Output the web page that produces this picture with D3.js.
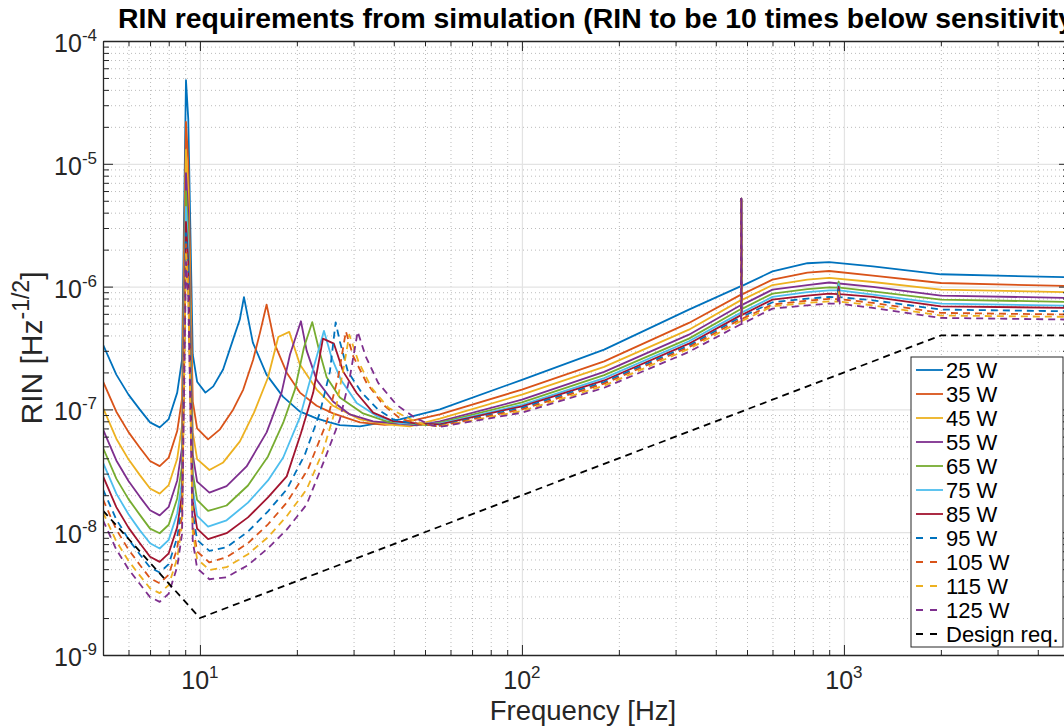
<!DOCTYPE html>
<html>
<head>
<meta charset="utf-8">
<script src="https://cdn.jsdelivr.net/npm/d3@7"></script>
<style>
  body { margin: 0; background: #fff; }
  svg { display: block; font-family: "Liberation Sans", Arial, Helvetica, sans-serif; }
</style>
</head>
<body>
<div id="chart"></div>
<script>
// RIN requirement curves, [frequency Hz, RIN 1/sqrt(Hz)]
var rin25 = [[5,3.37e-7],[5.5,1.92e-7],[6,1.32e-7],[6.5,1.0e-7],[7,7.84e-8],[7.5,7.14e-8],[8,8.34e-8],[8.5,1.37e-7],[8.8,2.54e-7],[9.05,4.8e-5],[9.2,2.3e-5],[9.5,2.8e-7],[9.8,1.68e-7],[10.4,1.37e-7],
  [11,1.54e-7],[11.8,2.11e-7],[12.7,3.77e-7],[13.3,5.39e-7],[13.7,8.2e-7],[14.6,3.5e-7],[16.1,1.92e-7],[18.1,1.27e-7],[20.4,9.63e-8],[23,8.45e-8],[25.3,7.84e-8],[27.2,7.45e-8],[31.4,7.27e-8],[41.8,8.3e-8],[55.6,1.0e-7],
  [100,1.74e-7],[180,3.07e-7],[330,6.5e-7],[479,1.01e-6],[480,5.2e-6],[481,1.01e-6],[600,1.33e-6],[770,1.55e-6],[900,1.58e-6],[1230,1.46e-6],[2000,1.26e-6],[5000,1.19e-6]];
var rin35 = [[5,1.69e-7],[5.5,9.58e-8],[6,6.53e-8],[6.5,4.9e-8],[7,3.8e-8],[7.5,3.45e-8],[8,4.05e-8],[8.5,6.66e-8],[8.8,1.23e-7],[9.05,2.19e-5],[9.2,1.03e-5],[9.5,1.16e-7],[9.8,7.0e-8],[10.6,5.7e-8],
  [11.54,6.88e-8],[12.69,1.0e-7],[13.63,1.45e-7],[14.63,2.54e-7],[15.36,4.2e-7],[16.11,7.14e-7],[17.1,3.37e-7],[18.6,1.99e-7],[20.44,1.37e-7],[23.04,1.07e-7],[25.9,9.28e-8],[31.4,7.84e-8],[37.5,7.48e-8],[41.8,7.69e-8],[55.6,9.1e-8],
  [100,1.45e-7],[180,2.46e-7],[330,5.06e-7],[479,8.6e-7],[480,5.2e-6],[481,8.6e-7],[600,1.14e-6],[770,1.3e-6],[900,1.34e-6],[1230,1.23e-6],[2000,1.07e-6],[5000,1.01e-6]];
var rin45 = [[5,1.03e-7],[5.5,5.77e-8],[6,3.92e-8],[6.5,2.93e-8],[7,2.27e-8],[7.5,2.06e-8],[8,2.42e-8],[8.5,3.97e-8],[8.8,7.37e-8],[9.05,1.3e-5],[9.2,6.12e-6],[9.5,6.53e-8],[9.8,3.94e-8],[10.7,3.21e-8],
  [11.81,3.7e-8],[13.31,5.49e-8],[14.72,9.4e-8],[16.27,1.82e-7],[17.51,3.89e-7],[18.94,4.28e-7],[20.44,2.32e-7],[23.04,1.45e-7],[25.9,1.07e-7],[31.4,8.29e-8],[38,7.55e-8],[44.9,7.27e-8],[55.6,8.4e-8],
  [100,1.32e-7],[180,2.22e-7],[330,4.46e-7],[479,7.76e-7],[480,5.2e-6],[481,7.76e-7],[600,1.03e-6],[770,1.14e-6],[900,1.18e-6],[1230,1.09e-6],[2000,9.45e-7],[5000,8.99e-7]];
var rin55 = [[5,6.88e-8],[5.5,3.84e-8],[6,2.61e-8],[6.5,1.95e-8],[7,1.51e-8],[7.5,1.37e-8],[8,1.61e-8],[8.5,2.64e-8],[8.8,4.9e-8],[9.05,8.41e-6],[9.2,3.98e-6],[9.5,4.28e-8],[9.8,2.58e-8],[10.7,2.1e-8],
  [12.1,2.37e-8],[13.96,3.43e-8],[16.11,6.5e-8],[17.93,1.37e-7],[19.04,2.8e-7],[20.59,5.22e-7],[21.45,3.01e-7],[23.04,1.74e-7],[25.9,1.16e-7],[29.2,9.1e-8],[34.5,7.99e-8],[47.1,7.41e-8],[55.6,8.0e-8],
  [100,1.2e-7],[180,2.02e-7],[330,4.06e-7],[479,7.07e-7],[480,5.2e-6],[481,7.07e-7],[600,9.45e-7],[770,1.03e-6],[900,1.08e-6],[1230,9.95e-7],[2000,8.45e-7],[5000,8.09e-7]];
var rin65 = [[5,4.87e-8],[5.5,2.73e-8],[6,1.86e-8],[6.5,1.39e-8],[7,1.07e-8],[7.5,9.81e-9],[8,1.15e-8],[8.5,1.88e-8],[8.8,3.5e-8],[9.05,6.0e-6],[9.2,2.79e-6],[9.5,3.03e-8],[9.8,1.83e-8],[10.6,1.49e-8],
  [12.1,1.65e-8],[14.1,2.4e-8],[16.27,4.14e-8],[18.14,7.79e-8],[19.72,1.45e-7],[21.04,3.19e-7],[22.33,5.14e-7],[23.42,3.07e-7],[24.75,1.83e-7],[27.2,1.25e-7],[32.1,9.28e-8],[38.4,7.91e-8],[50.6,7.45e-8],[55.6,7.8e-8],
  [100,1.14e-7],[180,1.9e-7],[330,3.77e-7],[479,6.56e-7],[480,5.2e-6],[481,6.56e-7],[600,8.77e-7],[770,9.54e-7],[900,9.87e-7],[955,9.8e-7],[963,1.1e-6],[971,9.8e-7],[1230,9.16e-7],[2000,7.84e-7],[5000,7.5e-7]];
var rin75 = [[5,3.68e-8],[5.5,2.06e-8],[6,1.4e-8],[6.5,1.04e-8],[7,8.12e-9],[7.5,7.37e-9],[8,8.66e-9],[8.5,1.42e-8],[8.8,2.62e-8],[9.05,4.45e-6],[9.2,2.06e-6],[9.5,2.26e-8],[9.8,1.36e-8],[10.6,1.11e-8],
  [12.1,1.25e-8],[14.1,1.74e-8],[16.27,2.64e-8],[18.14,4.06e-8],[20.44,8.61e-8],[22.35,2.03e-7],[24.27,4.36e-7],[25.64,2.64e-7],[27.4,1.74e-7],[30.66,1.13e-7],[35.4,8.82e-8],[41.8,7.69e-8],[55.6,7.65e-8],
  [100,1.09e-7],[180,1.8e-7],[330,3.59e-7],[479,6.14e-7],[480,5.2e-6],[481,6.14e-7],[600,8.24e-7],[770,9.02e-7],[900,9.33e-7],[955,9.3e-7],[963,1.05e-6],[971,9.3e-7],[1230,8.61e-7],[2000,7.27e-7],[5000,7.0e-7]];
var rin85 = [[5,2.86e-8],[5.5,1.6e-8],[6,1.09e-8],[6.5,8.17e-9],[7,6.32e-9],[7.5,5.73e-9],[8,6.73e-9],[8.5,1.1e-8],[8.8,2.04e-8],[9.05,3.36e-6],[9.2,1.59e-6],[9.5,1.78e-8],[9.8,1.07e-8],[10.6,8.77e-9],
  [12.1,9.81e-9],[14.1,1.32e-8],[16.27,1.92e-8],[18.6,2.85e-8],[20.59,6.4e-8],[22.48,1.37e-7],[24.1,3.77e-7],[26.07,3.43e-7],[27.86,2.03e-7],[30.66,1.36e-7],[34.5,9.4e-8],[39.8,8.03e-8],[47.1,7.69e-8],[55.6,7.55e-8],
  [100,1.06e-7],[180,1.72e-7],[330,3.43e-7],[479,5.86e-7],[480,5.2e-6],[481,5.86e-7],[600,7.84e-7],[770,8.45e-7],[900,8.77e-7],[955,8.7e-7],[963,1.0e-6],[971,8.7e-7],[1230,8.24e-7],[2000,6.91e-7],[5000,6.71e-7]];
var rin95 = [[5,2.23e-8],[5.5,1.27e-8],[6,8.77e-9],[6.5,6.62e-9],[7,5.16e-9],[7.5,4.7e-9],[8,5.49e-9],[8.5,9.05e-9],[8.8,1.67e-8],[9.05,2.73e-6],[9.2,1.31e-6],[9.5,1.43e-8],[9.8,8.66e-9],[10.7,7.04e-9],
  [12.1,7.55e-9],[14.1,1.01e-8],[16.27,1.48e-8],[18.6,2.23e-8],[21.19,4.3e-8],[23.6,9.45e-8],[25.33,2.03e-7],[26.39,5.12e-7],[27.2,3.57e-7],[28.8,2.03e-7],[31.8,1.37e-7],[35.7,1.0e-7],[39.8,8.29e-8],[47.1,7.62e-8],[55.6,7.41e-8],
  [100,1.03e-7],[180,1.67e-7],[330,3.31e-7],[479,5.65e-7],[480,5.2e-6],[481,5.65e-7],[600,7.45e-7],[770,7.99e-7],[900,8.24e-7],[955,8.2e-7],[963,9.6e-7],[971,8.2e-7],[1230,7.73e-7],[2000,6.5e-7],[5000,6.29e-7]];
var rin105 = [[5,1.85e-8],[5.5,1.05e-8],[6,7.22e-9],[6.5,5.44e-9],[7,4.22e-9],[7.5,3.84e-9],[8,4.5e-9],[8.5,7.41e-9],[8.8,1.37e-8],[9.05,2.22e-6],[9.2,1.09e-6],[9.5,1.15e-8],[9.8,6.96e-9],[10.7,5.67e-9],
  [12.1,6.26e-9],[14.1,8.14e-9],[16.27,1.16e-8],[18.6,1.74e-8],[21.65,3.25e-8],[24.75,7.84e-8],[26.89,1.85e-7],[28.4,4.32e-7],[29.93,2.71e-7],[32.94,1.64e-7],[37.1,1.09e-7],[41.8,8.45e-8],[48.2,7.55e-8],[55.6,7.34e-8],
  [100,1.0e-7],[180,1.62e-7],[330,3.21e-7],[479,5.44e-7],[480,5.2e-6],[481,5.44e-7],[600,7.14e-7],[770,7.69e-7],[900,7.94e-7],[955,7.9e-7],[963,9.3e-7],[971,7.9e-7],[1230,7.37e-7],[2000,6.11e-7],[5000,5.92e-7]];
var rin115 = [[5,1.45e-8],[5.5,8.41e-9],[6,5.85e-9],[6.5,4.45e-9],[7,3.49e-9],[7.5,3.19e-9],[8,3.71e-9],[8.5,6.14e-9],[8.8,1.14e-8],[9.05,1.84e-6],[9.2,9.4e-7],[9.5,1.0e-8],[9.8,6.06e-9],[10.7,4.93e-9],
  [12.1,5.19e-9],[14.1,6.62e-9],[16.27,9.1e-9],[18.6,1.35e-8],[21.45,2.23e-8],[24.1,4.55e-8],[26.45,1.03e-7],[28,2.24e-7],[29.1,4.06e-7],[31.06,2.46e-7],[34.1,1.5e-7],[38.5,1.03e-7],[44.4,8.45e-8],[50,7.48e-8],[55.6,7.27e-8],
  [100,9.7e-8],[180,1.56e-7],[330,3.11e-7],[479,5.24e-7],[480,5.2e-6],[481,5.24e-7],[600,6.91e-7],[770,7.37e-7],[900,7.59e-7],[955,7.55e-7],[963,9.0e-7],[971,7.55e-7],[1230,7.04e-7],[2000,5.81e-7],[5000,5.67e-7]];
var rin125 = [[5,1.25e-8],[5.5,7.22e-9],[6,5.0e-9],[6.5,3.8e-9],[7,2.96e-9],[7.5,2.71e-9],[8,3.16e-9],[8.5,5.22e-9],[8.8,9.69e-9],[9.05,1.59e-6],[9.2,8.2e-7],[9.5,8.45e-9],[9.8,5.09e-9],[10.7,4.14e-9],
  [12.1,4.3e-9],[14.1,5.39e-9],[16.27,7.41e-9],[18.6,1.05e-8],[21.45,1.68e-8],[24.4,3.92e-8],[27.2,8.29e-8],[29.2,1.82e-7],[30.9,4.3e-7],[32.7,2.71e-7],[35.8,1.64e-7],[40.8,1.09e-7],[46.5,8.56e-8],[52.5,7.41e-8],[55.6,7.2e-8],
  [100,9.4e-8],[180,1.5e-7],[330,2.94e-7],[479,4.95e-7],[480,5.2e-6],[481,4.95e-7],[600,6.62e-7],[770,7.04e-7],[900,7.27e-7],[955,7.25e-7],[963,8.8e-7],[971,7.25e-7],[1230,6.71e-7],[2000,5.56e-7],[5000,5.39e-7]];
var designReq = [[5,1.5e-8],[10,2e-9],[2000,4e-7],[5000,4e-7]];

var seriesNames = ["25 W", "35 W", "45 W", "55 W", "65 W", "75 W", "85 W", "95 W", "105 W", "115 W", "125 W", "Design req."];
var seriesData = [rin25, rin35, rin45, rin55, rin65, rin75, rin85, rin95, rin105, rin115, rin125, designReq];

var xMajorTicks = [10, 100, 1000];
var xMinorTicks = [6, 7, 8, 9, 20, 30, 40, 50, 60, 70, 80, 90, 200, 300, 400, 500, 600, 700, 800, 900, 2000, 3000, 4000];
var yMajorTicks = [1e-9, 1e-8, 1e-7, 1e-6, 1e-5, 1e-4];
var yMinorTicks = [];
[1e-9, 1e-8, 1e-7, 1e-6, 1e-5].forEach(function(d) {
  for (var k = 2; k <= 9; k++) yMinorTicks.push(d * k);
});

// matlab default colour order, 7 colours then repeated dashed
var colors = ["#0072BD", "#D95319", "#EDB120", "#7E2F8E", "#77AC30", "#4DBEEE", "#A2142F"];
function colorOf(i) { return i === 11 ? "#000000" : colors[i % 7]; }
function dashOf(i) { return i >= 7 ? "7,5" : null; }

var svgWidth = 1064;
var svgHeight = 726;
var plot = {left: 103, top: 41, right: 1069, bottom: 655};
var axisColor = "#262626";

var svg = d3.select("#chart")
  .append("svg")
  .attr("width", svgWidth)
  .attr("height", svgHeight);

var x = d3.scaleLog().domain([5, 5000]).range([plot.left, plot.right]);
var y = d3.scaleLog().domain([1e-9, 1e-4]).range([plot.bottom, plot.top]);
var h = plot.bottom - plot.top;
var w = plot.right - plot.left;

// grid
function gridX(ticks, cls) {
  return svg.append("g").attr("class", cls)
    .attr("transform", `translate(0, ${plot.bottom})`)
    .call(d3.axisBottom(x).tickValues(ticks).tickSize(-h).tickFormat("").tickSizeOuter(0));
}
function gridY(ticks, cls) {
  return svg.append("g").attr("class", cls)
    .attr("transform", `translate(${plot.left}, 0)`)
    .call(d3.axisLeft(y).tickValues(ticks).tickSize(-w).tickFormat("").tickSizeOuter(0));
}
[gridX(xMinorTicks, "minor"), gridY(yMinorTicks, "minor")].forEach(function(g) {
  g.select(".domain").remove();
  g.selectAll("line").attr("stroke", "#b4b4b4").attr("stroke-dasharray", "1,3").attr("stroke-width", 0.9);
});
[gridX(xMajorTicks, "major"), gridY(yMajorTicks, "major")].forEach(function(g) {
  g.select(".domain").remove();
  g.selectAll("line").attr("stroke", "#e3e3e3").attr("stroke-width", 1.2);
});

// curves
svg.append("clipPath").attr("id", "clip")
  .append("rect").attr("x", plot.left).attr("y", plot.top).attr("width", w).attr("height", h);

var line = d3.line().x(d => x(d[0])).y(d => y(d[1]));

svg.append("g").attr("clip-path", "url(#clip)")
  .selectAll("path")
  .data(seriesData)
  .enter()
  .append("path")
  .attr("d", line)
  .attr("fill", "none")
  .attr("stroke", (d, i) => colorOf(i))
  .attr("stroke-width", 1.8)
  .attr("stroke-dasharray", (d, i) => dashOf(i))
  .attr("stroke-linejoin", "round");

// axes with inward ticks on all four sides
function styleAxis(g) {
  g.selectAll("line").attr("stroke", axisColor);
  g.select(".domain").attr("stroke", axisColor).attr("stroke-width", 1.3);
}
var axes = [
  [d3.axisBottom(x), `translate(0, ${plot.bottom})`, xMajorTicks, xMinorTicks, 10, 5],
  [d3.axisTop(x), `translate(0, ${plot.top})`, xMajorTicks, xMinorTicks, 10, 5],
  [d3.axisLeft(y), `translate(${plot.left}, 0)`, yMajorTicks, yMinorTicks, 10, 6],
  [d3.axisRight(y), `translate(${plot.right}, 0)`, yMajorTicks, yMinorTicks, 10, 6]
];
axes.forEach(function(a) {
  var gMin = svg.append("g").attr("transform", a[1])
    .call(a[0].tickValues(a[3]).tickSize(-a[5]).tickFormat("").tickSizeOuter(0));
  gMin.select(".domain").remove();
  styleAxis(gMin);
  var gMaj = svg.append("g").attr("transform", a[1])
    .call(a[0].tickValues(a[2]).tickSize(-a[4]).tickFormat("").tickSizeOuter(0));
  styleAxis(gMaj);
});

// tick labels as 10 with superscript exponent
function powerLabel(sel, base, exp) {
  sel.append("tspan").text(base);
  sel.append("tspan").attr("font-size", 17).attr("dy", -11).text(exp);
}
svg.append("g").selectAll("text")
  .data(xMajorTicks).enter().append("text")
  .attr("x", d => x(d))
  .attr("y", 689)
  .attr("text-anchor", "middle")
  .attr("font-size", 25)
  .attr("fill", axisColor)
  .each(function(d) { powerLabel(d3.select(this), "10", Math.round(Math.log10(d))); });

svg.append("g").selectAll("text")
  .data(yMajorTicks).enter().append("text")
  .attr("x", 97)
  .attr("y", d => y(d) + 11)
  .attr("text-anchor", "end")
  .attr("font-size", 25)
  .attr("fill", axisColor)
  .each(function(d) { powerLabel(d3.select(this), "10", Math.round(Math.log10(d))); });

// axis labels and title
svg.append("text")
  .attr("x", (plot.left + plot.right) / 2 - 3)
  .attr("y", 720)
  .attr("text-anchor", "middle")
  .attr("font-size", 27.5)
  .attr("fill", axisColor)
  .text("Frequency [Hz]");

var yLabel = svg.append("text")
  .attr("transform", `translate(42, ${(plot.top + plot.bottom) / 2}) rotate(-90)`)
  .attr("text-anchor", "middle")
  .attr("font-size", 30)
  .attr("fill", axisColor);
yLabel.append("tspan").text("RIN [Hz");
yLabel.append("tspan").attr("font-size", 23).attr("dy", -13).text("-1/2");
yLabel.append("tspan").attr("dy", 13).text("]");

svg.append("text")
  .attr("x", 118)
  .attr("y", 28)
  .attr("font-size", 28.4)
  .attr("font-weight", "bold")
  .attr("fill", "#000")
  .text("RIN requirements from simulation (RIN to be 10 times below sensitivity)");

// legend
var legend = svg.append("g");
legend.append("rect")
  .attr("x", 911).attr("y", 357).attr("width", 152).attr("height", 290)
  .attr("fill", "#fff").attr("stroke", axisColor).attr("stroke-width", 1);
var entry = legend.selectAll(".entry")
  .data(seriesNames).enter().append("g")
  .attr("transform", (d, i) => `translate(0, ${370 + i * 24})`);
entry.append("line")
  .attr("x1", 916)
  .attr("x2", (d, i) => i >= 7 ? 938 : 943)
  .attr("stroke", (d, i) => colorOf(i))
  .attr("stroke-width", 1.8)
  .attr("stroke-dasharray", (d, i) => i >= 7 ? "7,7" : null);
entry.append("text")
  .attr("x", 946).attr("y", 8)
  .attr("font-size", 22)
  .attr("fill", "#000")
  .text(d => d);
</script>
</body>
</html>
